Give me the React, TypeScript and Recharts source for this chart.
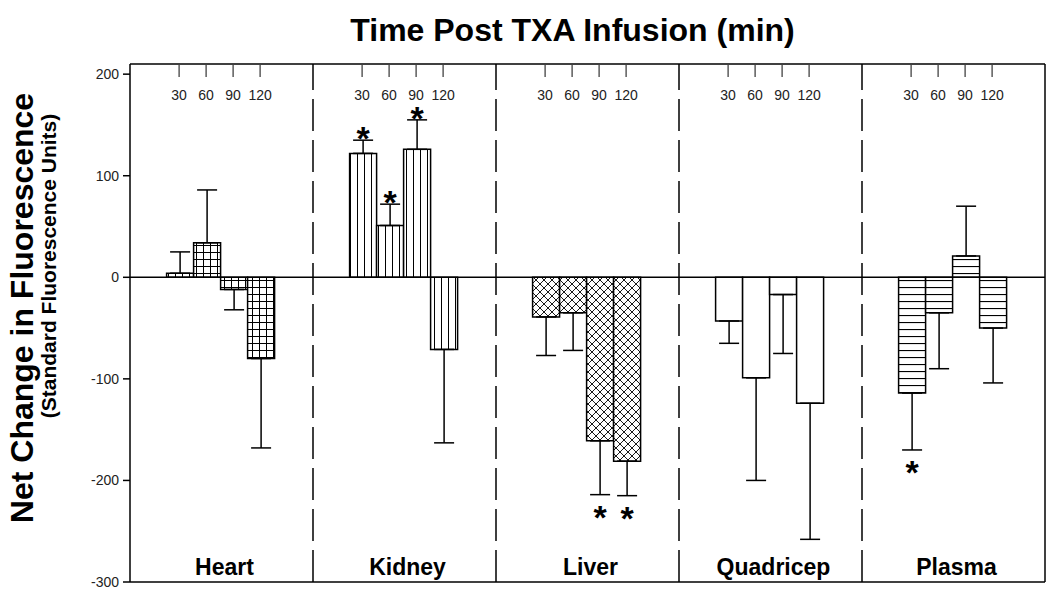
import React from 'react'
import { BarChart, Bar, XAxis, YAxis, Cell, ErrorBar, LabelList, ReferenceLine } from 'recharts'

const FONT = "'Liberation Sans', Arial, Helvetica, sans-serif"

// tissues along the x axis, sampling times inside each tissue
const organs = ['Heart', 'Kidney', 'Liver', 'Quadricep', 'Plasma']
const timeLabels = ['30', '60', '90', '120']

// mean net change per tissue, one array per time point
const mean30 = [4, 122, -39, -43, -114]
const mean60 = [34, 51, -35, -99, -35]
const mean90 = [-12, 126, -161, -17, 21]
const mean120 = [-80, -71, -181, -124, -50]

// one-sided error (drawn away from zero)
const err30 = [21, 13, 38, 22, 56]
const err60 = [52, 21, 37, 101, 55]
const err90 = [20, 29, 53, 58, 49]
const err120 = [88, 92, 34, 134, 54]

// significance markers
const sig30 = [false, true, false, false, true]
const sig60 = [false, true, false, false, false]
const sig90 = [false, true, true, false, false]
const sig120 = [false, false, true, false, false]

const organFill = ['url(#pGrid)', 'url(#pVert)', 'url(#pCross)', '#ffffff', 'url(#pHoriz)']
const yTicks = [-300, -200, -100, 0, 100, 200]
const separators = [1, 2, 3, 4]

const means = [mean30, mean60, mean90, mean120]
const errs = [err30, err60, err90, err120]
const sigs = [sig30, sig60, sig90, sig120]

const data = organs.map((organ, i) => {
  const row: any = { organ, slot: i + 0.5 }
  timeLabels.forEach((t, j) => {
    const v = means[j][i]
    const e = errs[j][i]
    row['m' + t] = v
    row['e' + t] = v >= 0 ? [0, e] : [e, 0]
    row['r' + t] = e
    row['s' + t] = sigs[j][i]
  })
  return row
})

const box = (p: any) => {
  const vb = p.viewBox || {}
  return {
    x: p.x ?? vb.x,
    y: p.y ?? vb.y,
    width: p.width ?? vb.width,
    height: p.height ?? vb.height,
  }
}

const TimeTick = (props: any) => {
  const { x, width } = box(props)
  const cx = x + width / 2 - 1
  return (
    <g>
      <line x1={cx} x2={cx} y1={65} y2={77} stroke="#333" strokeWidth={1.2} />
      <text x={cx} y={100} textAnchor="middle" fontSize={14} fontFamily={FONT} fill="#222">
        {props.time}
      </text>
    </g>
  )
}

const Star = (props: any) => {
  const row = data[props.index]
  const t = props.time
  if (!row || !row['s' + t]) return null
  const { x, y, width, height } = box(props)
  const v = row['m' + t]
  const e = row['r' + t]
  const ppu = Math.abs(height) / Math.abs(v)
  const cx = x + width / 2
  let cy
  if (v >= 0) {
    cy = Math.min(y, y + height) - e * ppu - 9
  } else {
    cy = Math.max(y, y + height) + e * ppu + 15
  }
  return (
    <text x={cx} y={cy + 19} textAnchor="middle" fontSize={34} fontWeight="bold" fontFamily={FONT} fill="#000">
      *
    </text>
  )
}

const OrganTick = (props: any) => {
  const { x, payload } = props
  return (
    <text x={x + 3} y={575} textAnchor="middle" fontSize={23} fontWeight="bold" fontFamily={FONT} fill="#000">
      {payload.value}
    </text>
  )
}

const YLabel = () => (
  <g>
    <text transform="translate(33,308) rotate(-90)" textAnchor="middle" fontSize={32} fontWeight="bold" fontFamily={FONT} fill="#000">
      Net Change in Fluorescence
    </text>
    <text transform="translate(56,266) rotate(-90)" textAnchor="middle" fontSize={21} fontWeight="bold" fontFamily={FONT} fill="#000">
      (Standard Fluorescence Units)
    </text>
  </g>
)

export default function App() {
  return (
    <div style={{ position: 'absolute', left: 0, top: 0, width: 1050, height: 602, background: '#fff', fontFamily: FONT }}>
      <div
        style={{
          position: 'absolute',
          left: 0,
          top: 15,
          width: 1145,
          textAlign: 'center',
          fontSize: 32,
          lineHeight: '31px',
          fontWeight: 'bold',
          color: '#000',
        }}
      >
        Time Post TXA Infusion (min)
      </div>
      <BarChart
        width={1050}
        height={602}
        data={data}
        margin={{ top: 64, right: 5, bottom: 0, left: 0 }}
        barGap={0}
        barCategoryGap="20%"
      >
        <defs>
          <pattern id="pGrid" patternUnits="userSpaceOnUse" width={7} height={7}>
            <rect width={7} height={7} fill="#fff" />
            <path d="M0 0.5 H7 M0.5 0 V7" stroke="#000" strokeWidth={1} />
          </pattern>
          <pattern id="pVert" patternUnits="userSpaceOnUse" width={7} height={7}>
            <rect width={7} height={7} fill="#fff" />
            <path d="M0.5 0 V7" stroke="#000" strokeWidth={1} />
          </pattern>
          <pattern id="pHoriz" patternUnits="userSpaceOnUse" width={7} height={7}>
            <rect width={7} height={7} fill="#fff" />
            <path d="M0 0.5 H7" stroke="#000" strokeWidth={1.2} />
          </pattern>
          <pattern id="pCross" patternUnits="userSpaceOnUse" width={8} height={8}>
            <rect width={8} height={8} fill="#fff" />
            <path d="M0 0 L8 8 M8 0 L0 8" stroke="#000" strokeWidth={0.9} />
          </pattern>
        </defs>

        <XAxis
          dataKey="organ"
          axisLine={false}
          tickLine={false}
          height={20}
          interval={0}
          tick={<OrganTick />}
        />
        <XAxis
          xAxisId="sep"
          dataKey="slot"
          type="number"
          domain={[0, 5]}
          allowDataOverflow
          hide
        />
        <YAxis
          type="number"
          domain={[-300, 210]}
          ticks={yTicks}
          allowDataOverflow
          interval={0}
          width={130}
          tickSize={7}
          tickMargin={4}
          axisLine={{ stroke: '#000', strokeWidth: 1.5 }}
          tickLine={{ stroke: '#000', strokeWidth: 1.5 }}
          tick={{ fill: '#222', fontSize: 14, fontFamily: FONT }}
          label={<YLabel />}
        />

        {separators.map((s) => (
          <ReferenceLine
            key={s}
            xAxisId="sep"
            x={s}
            stroke="#000"
            strokeWidth={1.5}
            strokeDasharray="32 9"
          />
        ))}
        <ReferenceLine xAxisId="sep" x={5} stroke="#000" strokeWidth={1.5} />
        <ReferenceLine y={210} stroke="#000" strokeWidth={1.5} />
        <ReferenceLine y={-300} stroke="#000" strokeWidth={1.5} />
        <ReferenceLine y={0} stroke="#000" strokeWidth={1.5} />

        {timeLabels.map((t) => (
          <Bar
            key={t}
            dataKey={'m' + t}
            stroke="#000"
            strokeWidth={1.5}
            isAnimationActive={false}
          >
            {data.map((d, i) => (
              <Cell key={`c-${t}-${i}`} fill={organFill[i]} />
            ))}
            <ErrorBar dataKey={'e' + t} direction="y" width={10} stroke="#000" strokeWidth={1.5} />
            <LabelList dataKey={'m' + t} content={(p: any) => <TimeTick {...p} time={t} />} />
            <LabelList dataKey={'m' + t} content={(p: any) => <Star {...p} time={t} />} />
          </Bar>
        ))}
      </BarChart>
    </div>
  )
}
